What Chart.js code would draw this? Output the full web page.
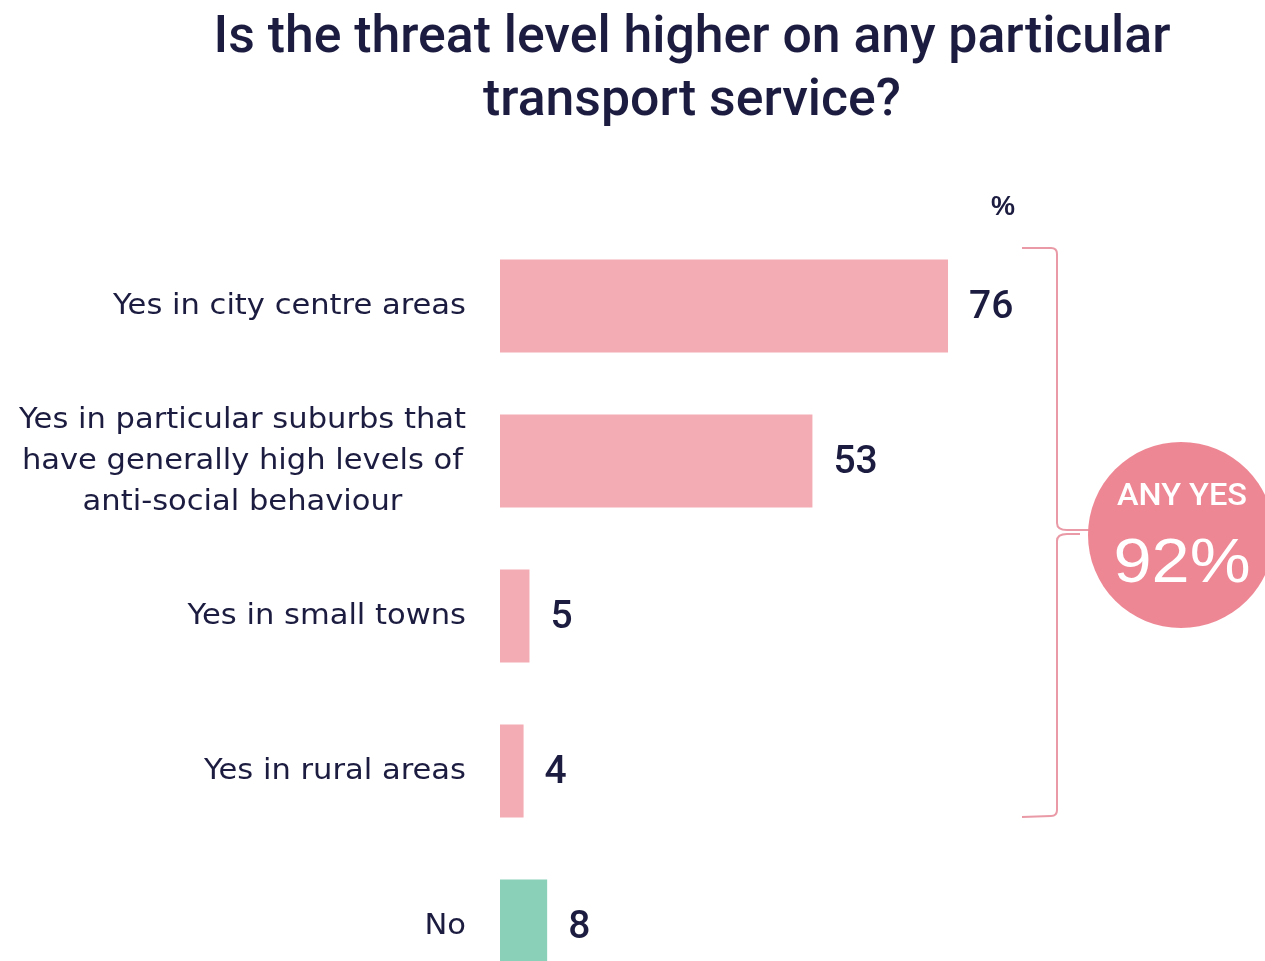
<!DOCTYPE html>
<html>
<head>
<meta charset="utf-8">
<script src="https://cdn.jsdelivr.net/npm/chart.js@4"></script>
<style>
  html, body { margin: 0; padding: 0; background: #fff; overflow: hidden; }
  #wrap { width: 1265px; height: 1010px; }
</style>
</head>
<body>
<div id="wrap"><canvas id="chart" width="1265" height="1010"></canvas></div>
<script>
const titleLines = ["Is the threat level higher on any particular", "transport service?"];
const categories = [
  ["Yes in city centre areas"],
  ["Yes in particular suburbs that", "have generally high levels of", "anti-social behaviour"],
  ["Yes in small towns"],
  ["Yes in rural areas"],
  ["No"]
];
const values = [76, 53, 5, 4, 8];
const barColors = ["#f4acb4", "#f4acb4", "#f4acb4", "#f4acb4", "#8ad0b8"];
const unitLabel = "%";
const totalLabel = "ANY YES";
const totalValue = 92;

const navy = "#1c1c40";
const pinkDark = "#ee8794";
const bracketColor = "#e99aa6";

// draw text squeezed/stretched horizontally to a given width
function fitText(ctx, text, cx, by, width) {
  const s = width / ctx.measureText(text).width;
  ctx.save();
  ctx.translate(cx, by);
  ctx.scale(s, 1);
  ctx.fillText(text, 0, 0);
  ctx.restore();
}

const overlay = {
  id: "overlay",
  afterDatasetsDraw(chart) {
    const ctx = chart.ctx;
    const x = chart.scales.x;
    const y = chart.scales.y;
    ctx.save();

    // title
    ctx.fillStyle = navy;
    ctx.font = "500 52px Roboto";
    ctx.textAlign = "center";
    ctx.textBaseline = "alphabetic";
    const sx = 957 / ctx.measureText(titleLines[0]).width;
    [[titleLines[0], 52], [titleLines[1], 115]].forEach(([t, by]) => {
      ctx.save();
      ctx.translate(692, by);
      ctx.scale(sx, 1);
      ctx.fillText(t, 0, 0);
      ctx.restore();
    });

    // category labels: block right-aligned, lines centred in the block
    ctx.font = "29px 'DejaVu Sans'";
    ctx.textBaseline = "middle";
    ctx.textAlign = "center";
    const ls = 353 / ctx.measureText(categories[0][0]).width;
    categories.forEach((lines, i) => {
      const cy = y.getPixelForValue(i);
      const w = Math.max(...lines.map(l => ctx.measureText(l).width)) * ls;
      const cx = 466 - w / 2;
      const lh = 41;
      lines.forEach((l, k) => {
        ctx.save();
        ctx.translate(cx, cy + (k - (lines.length - 1) / 2) * lh);
        ctx.scale(ls, 1);
        ctx.fillText(l, 0, 0);
        ctx.restore();
      });
    });

    // value labels
    ctx.font = "500 39px Roboto";
    ctx.textAlign = "left";
    values.forEach((v, i) => {
      ctx.fillText(String(v), x.getPixelForValue(v) + 21, y.getPixelForValue(i) + 2);
    });

    ctx.font = "bold 27px 'Liberation Sans'";
    ctx.textAlign = "center";
    ctx.fillText(unitLabel, 1003, 208);

    // bracket around the "yes" rows
    const top = 248, bot = 816, mid = 531, bx = 1057;
    ctx.strokeStyle = bracketColor;
    ctx.lineWidth = 2;
    ctx.beginPath();
    ctx.moveTo(1022, top);
    ctx.lineTo(bx - 6, top);
    ctx.quadraticCurveTo(bx, top, bx, top + 6);
    ctx.lineTo(bx, mid - 8);
    ctx.quadraticCurveTo(bx, mid - 1, bx + 10, mid - 1);
    ctx.lineTo(1090, mid - 1);
    ctx.moveTo(1080, mid + 3);
    ctx.lineTo(bx + 10, mid + 3);
    ctx.quadraticCurveTo(bx, mid + 3, bx, mid + 10);
    ctx.lineTo(bx, bot - 6);
    ctx.quadraticCurveTo(bx, bot, bx - 6, bot);
    ctx.lineTo(1022, bot + 1);
    ctx.stroke();

    // total circle
    ctx.fillStyle = pinkDark;
    ctx.beginPath();
    ctx.arc(1181, 535, 93, 0, Math.PI * 2);
    ctx.fill();
    ctx.fillStyle = "#fff";
    ctx.textBaseline = "alphabetic";
    ctx.textAlign = "center";
    ctx.font = "500 31px Roboto";
    fitText(ctx, totalLabel, 1182, 505, 130);
    ctx.font = "63px 'Liberation Sans'";
    fitText(ctx, totalValue + "%", 1182, 582, 137);

    ctx.restore();
  }
};

new Chart(document.getElementById("chart"), {
  type: "bar",
  data: {
    labels: categories,
    datasets: [{
      data: values,
      backgroundColor: barColors,
      categoryPercentage: 1,
      barPercentage: 0.6
    }]
  },
  options: {
    indexAxis: "y",
    responsive: false,
    animation: false,
    layout: { padding: { left: 500, right: 175.5, top: 228.5, bottom: 6.5 } },
    scales: {
      x: { display: false, min: 0, max: 100 },
      y: { display: false }
    },
    plugins: { legend: { display: false }, tooltip: { enabled: false } }
  },
  plugins: [overlay]
});
</script>
</body>
</html>
